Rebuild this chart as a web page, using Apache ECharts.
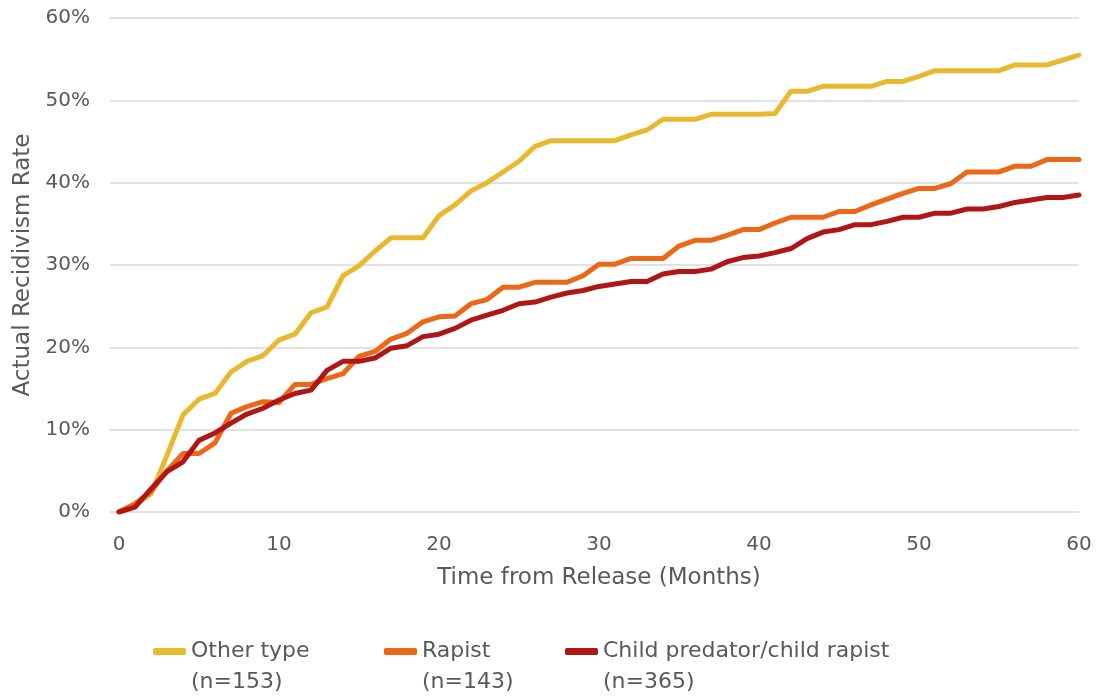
<!DOCTYPE html>
<html>
<head>
<meta charset="utf-8">
<script src="https://cdn.jsdelivr.net/npm/echarts@6/dist/echarts.min.js"></script>
<style>
html,body{margin:0;padding:0;background:#fff;}
#chart{width:1099px;height:698px;}
</style>
</head>
<body>
<div id="chart"></div>
<script>
var months = [];
for (var i = 0; i <= 60; i++) months.push(i);

var seriesNames = ['Other type', 'Rapist', 'Child predator/child rapist'];
var sampleSizes = ['(n=153)', '(n=143)', '(n=365)'];

var otherType = [0, 0.9, 2.2, 6.9, 11.8, 13.7, 14.4, 17.0, 18.3, 19.0,
  20.9, 21.6, 24.2, 24.9, 28.7, 29.9, 31.7, 33.3, 33.3, 33.3,
  36.0, 37.3, 39.0, 40.0, 41.3, 42.6, 44.4, 45.1, 45.1, 45.1,
  45.1, 45.1, 45.8, 46.4, 47.7, 47.7, 47.7, 48.3, 48.3, 48.3,
  48.3, 48.4, 51.1, 51.1, 51.7, 51.7, 51.7, 51.7, 52.3, 52.3,
  52.9, 53.6, 53.6, 53.6, 53.6, 53.6, 54.3, 54.3, 54.3, 54.9, 55.5];

var rapist = [0, 1.0, 2.5, 5.0, 7.1, 7.1, 8.4, 12.0, 12.8, 13.4,
  13.3, 15.5, 15.5, 16.2, 16.8, 18.9, 19.5, 21.0, 21.7, 23.1,
  23.7, 23.8, 25.3, 25.8, 27.3, 27.3, 27.9, 27.9, 27.9, 28.7,
  30.1, 30.1, 30.8, 30.8, 30.8, 32.3, 33.0, 33.0, 33.6, 34.3,
  34.3, 35.1, 35.8, 35.8, 35.8, 36.5, 36.5, 37.3, 38.0, 38.7,
  39.3, 39.3, 39.9, 41.3, 41.3, 41.3, 42.0, 42.0, 42.8, 42.8, 42.8];

var childPredator = [0, 0.6, 2.8, 4.9, 6.1, 8.7, 9.6, 10.8, 11.9, 12.6,
  13.6, 14.4, 14.8, 17.2, 18.3, 18.3, 18.7, 19.9, 20.2, 21.3,
  21.6, 22.3, 23.3, 23.9, 24.5, 25.3, 25.5, 26.1, 26.6, 26.9,
  27.4, 27.7, 28.0, 28.0, 28.9, 29.2, 29.2, 29.5, 30.4, 30.9,
  31.1, 31.5, 32.0, 33.2, 34.0, 34.3, 34.9, 34.9, 35.3, 35.8,
  35.8, 36.3, 36.3, 36.8, 36.8, 37.1, 37.6, 37.9, 38.2, 38.2, 38.5];

var colors = ['#E8B92E', '#EC6816', '#B11616'];
var textColor = '#595959';
var fontFamily = 'DejaVu Sans';

function pairs(vals) {
  return months.map(function (m, i) { return [m, vals[i]]; });
}

var allVals = [otherType, rapist, childPredator];
var legendLefts = [153, 384, 565];

var series = seriesNames.map(function (name, k) {
  return {
    name: name,
    type: 'line',
    data: pairs(allVals[k]),
    showSymbol: false,
    symbol: 'none',
    lineStyle: { width: 5, color: colors[k], cap: 'round', join: 'round' },
    itemStyle: { color: colors[k] },
    z: 2 + k,
    animation: false
  };
});

var legends = seriesNames.map(function (name, k) {
  return {
    data: [name],
    left: legendLefts[k],
    top: 605,
    padding: 0,
    icon: 'roundRect',
    itemWidth: 33,
    itemHeight: 7,
    itemGap: 5,
    selectedMode: false,
    formatter: function (n) { return '\n' + n + '\n' + sampleSizes[k]; },
    textStyle: { color: textColor, fontSize: 22, fontFamily: fontFamily, lineHeight: 31 }
  };
});

var chart = echarts.init(document.getElementById('chart'), null, { renderer: 'canvas' });
chart.setOption({
  animation: false,
  backgroundColor: '#ffffff',
  color: colors,
  grid: { left: 119, right: 20, top: 18, bottom: 186, containLabel: false },
  legend: legends,
  xAxis: {
    type: 'value',
    min: 0, max: 60, interval: 10,
    name: 'Time from Release (Months)',
    nameLocation: 'middle',
    nameGap: 55,
    nameTextStyle: { color: textColor, fontSize: 23, fontFamily: fontFamily },
    axisLine: { show: false },
    axisTick: { show: false },
    splitLine: { show: false },
    axisLabel: { color: textColor, fontSize: 20, fontFamily: fontFamily, margin: 23 }
  },
  yAxis: {
    type: 'value',
    min: 0, max: 60, interval: 10,
    name: 'Actual Recidivism Rate',
    nameLocation: 'middle',
    nameGap: 80,
    nameTextStyle: { color: textColor, fontSize: 23, fontFamily: fontFamily },
    axisLine: { show: false },
    axisTick: { show: true, length: 9, lineStyle: { color: '#D9D9D9', width: 1.5 } },
    splitLine: { show: true, lineStyle: { color: '#D9D9D9', width: 1.5 } },
    axisLabel: { color: textColor, fontSize: 20, fontFamily: fontFamily, margin: 29,
      formatter: function (v) { return v + '%'; } }
  },
  series: series
});
</script>
</body>
</html>
